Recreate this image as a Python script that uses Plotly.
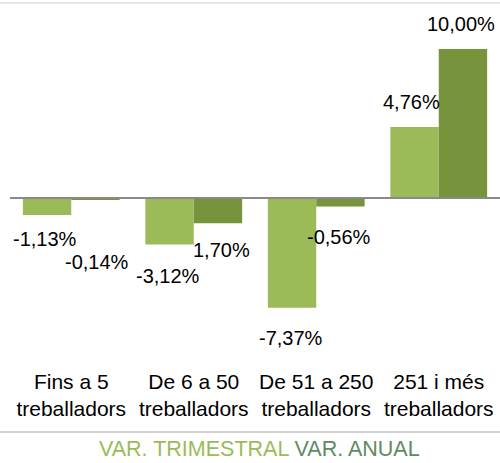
import plotly.graph_objects as go

# data
categories = ["Fins a 5<br>treballadors", "De 6 a 50<br>treballadors",
              "De 51 a 250<br>treballadors", "251 i més<br>treballadors"]
var_trimestral = [-1.13, -3.12, -7.37, 4.76]
var_anual = [-0.14, -1.70, -0.56, 10.00]
labels_trimestral = ["-1,13%", "-3,12%", "-7,37%", "4,76%"]
labels_anual = ["-0,14%", "1,70%", "-0,56%", "10,00%"]

FONT = "Liberation Sans, Arial, sans-serif"
C_TRIM = "#9bbb59"
C_ANUAL = "#77933c"

fig = go.Figure()
fig.add_trace(go.Bar(x=categories, y=var_trimestral, name="VAR. TRIMESTRAL",
                     marker=dict(color=C_TRIM, line=dict(width=0))))
fig.add_trace(go.Bar(x=categories, y=var_anual, name="VAR. ANUAL",
                     marker=dict(color=C_ANUAL, line=dict(width=0))))

# label offsets (px) relative to bar end: (dx, dy)
off_trim = [(-2, 24), (-1, 31), (-1, 30), (-3, -25)]
off_anual = [(1, 62), (3, 27), (-2, 31), (-2, -25)]

for i, cat in enumerate(categories):
    for vals, labs, offs, side in ((var_trimestral, labels_trimestral, off_trim, -1),
                                   (var_anual, labels_anual, off_anual, 1)):
        dx, dy = offs[i]
        fig.add_annotation(x=cat, y=vals[i], text=labs[i], showarrow=False,
                           xref="x", yref="y", xshift=side * 24.5 + dx, yshift=-dy,
                           font=dict(family=FONT, size=20, color="#000000"))

fig.add_annotation(
    x=0.51, y=-0.25, xref="paper", yref="paper", showarrow=False,
    xanchor="center", yanchor="middle", borderpad=0,
    text=f'<span style="color:{C_TRIM}">VAR. TRIMESTRAL</span> '
         f'<span style="color:#5f8b62">VAR. ANUAL</span>',
    font=dict(family=FONT, size=21.5))

# zero line, top border and separator
fig.add_shape(type="line", xref="paper", yref="y", x0=0, x1=1, y0=0, y1=0,
              line=dict(color="#898989", width=2))
fig.add_shape(type="line", xref="paper", yref="paper", x0=-0.03, x1=1, y0=1, y1=1,
              line=dict(color="#d0d0d0", width=1))
fig.add_shape(type="line", xref="paper", yref="paper", x0=-0.03, x1=1, y0=-0.2017, y1=-0.2017,
              line=dict(color="#c0c0c0", width=1.5))

fig.update_layout(
    width=500, height=463,
    margin=dict(l=10, r=0, t=3, b=103),
    paper_bgcolor="white", plot_bgcolor="white",
    barmode="group", bargap=0.21, bargroupgap=0,
    showlegend=False,
    font=dict(family=FONT, size=20, color="#000000"),
    xaxis=dict(showline=False, showgrid=False, ticks="", tickangle=0, automargin=False,
               ticklabelstandoff=7,
               tickfont=dict(family=FONT, size=21, color="#000000")),
    yaxis=dict(range=[-10.87, 13.09], visible=False, showgrid=False, zeroline=False,
               automargin=False),
)

# the page body has a default 8px margin; drop it so the figure sits at 0,0
fig.write_html("out.html", config={"displayModeBar": False},
               post_script="document.body.style.margin='0';")
